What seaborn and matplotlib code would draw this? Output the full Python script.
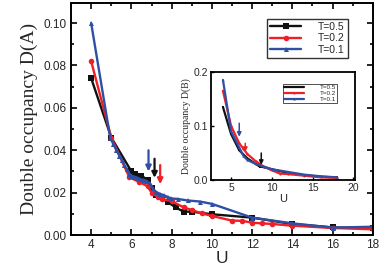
import numpy as np
import pandas as pd
import matplotlib
matplotlib.use("Agg")
import matplotlib.pyplot as plt
import seaborn as sns
from matplotlib.ticker import MultipleLocator

sns.set_theme(style="ticks")
plt.rcParams['font.family'] = ['Liberation Sans', 'DejaVu Sans']

# ---------------- data (main panel) ----------------
labels = ["T=0.5", "T=0.2", "T=0.1"]
colors = ["#111111", "#ee1f26", "#2f4fa6"]
markers = ["s", "o", "^"]

u_t05 = [4, 5, 6, 6.2, 6.5, 6.8, 7.0, 7.2, 7.8, 8.2, 8.6, 9.0, 10, 12, 14, 16, 18]
d_t05 = [0.074, 0.046, 0.030, 0.029, 0.028, 0.026, 0.022, 0.019, 0.0156, 0.013, 0.011, 0.011, 0.0098, 0.0082, 0.0052, 0.0036, 0.0031]

u_t02 = [4, 5, 5.9, 6.4, 6.8, 7.0, 7.3, 7.5, 8.0, 8.6, 9.0, 9.5, 10, 11, 11.5, 12, 12.5, 13, 14, 16, 18]
d_t02 = [0.082, 0.046, 0.0272, 0.025, 0.023, 0.020, 0.018, 0.017, 0.016, 0.013, 0.0118, 0.0102, 0.009, 0.0068, 0.0067, 0.0058, 0.0055, 0.0052, 0.0044, 0.0033, 0.0027]

u_t01 = [4, 4.95, 5.1, 5.25, 5.4, 5.52, 5.65, 5.77, 5.9, 6.0, 6.15, 6.3, 6.45, 6.6, 6.75, 6.9, 7.05, 7.2, 7.4, 7.6, 7.8, 7.95, 8.3, 8.8, 9.4, 10, 12, 14, 16, 18]
d_t01 = [0.100, 0.0457, 0.043, 0.040, 0.0375, 0.0355, 0.033, 0.031, 0.0290, 0.0280, 0.0275, 0.0270, 0.0262, 0.026, 0.0255, 0.0245, 0.022, 0.0205, 0.0195, 0.0188, 0.018, 0.0173, 0.017, 0.0163, 0.0158, 0.0147, 0.0082, 0.0055, 0.0035, 0.0039]

arrow_u = [6.85, 7.15, 7.43]
arrow_top = [0.040, 0.036, 0.033]
arrow_bot = [0.030, 0.027, 0.024]
arrow_colors = ["#2f4fa6", "#111111", "#ee1f26"]

# ---------------- data (inset) ----------------
iu_t05 = [4, 5, 6, 7, 8, 8.5, 9, 10, 12, 14, 16, 18]
id_t05 = [0.135, 0.085, 0.055, 0.040, 0.030, 0.025, 0.024, 0.020, 0.013, 0.009, 0.006, 0.005]
iu_t02 = [4, 5, 6, 6.5, 7, 8, 9, 10, 11, 12, 14, 16, 18]
id_t02 = [0.165, 0.100, 0.068, 0.058, 0.048, 0.035, 0.025, 0.018, 0.012, 0.011, 0.008, 0.005, 0.004]
iu_t01 = [4, 5, 5.5, 6, 6.5, 7, 8, 9, 10, 12, 14, 16, 18]
id_t01 = [0.185, 0.090, 0.075, 0.060, 0.045, 0.037, 0.030, 0.025, 0.020, 0.015, 0.010, 0.007, 0.005]

iarrow_u = [6.0, 6.74, 8.7]
iarrow_top = [0.105, 0.068, 0.050]
iarrow_bot = [0.080, 0.052, 0.028]
iarrow_colors = ["#2f4fa6", "#ee1f26", "#111111"]


def make_df(us, ds):
    frames = []
    for lab, u, d in zip(labels, us, ds):
        frames.append(pd.DataFrame({"U": u, "D": d, "T": lab}))
    return pd.concat(frames, ignore_index=True)


df_main = make_df([u_t05, u_t02, u_t01], [d_t05, d_t02, d_t01])
df_in = make_df([iu_t05, iu_t02, iu_t01], [id_t05, id_t02, id_t01])

pal = dict(zip(labels, colors))
mk = dict(zip(labels, markers))

fig = plt.figure(figsize=(3.82, 2.72), dpi=100)
ax = fig.add_axes([0.186, 0.136, 0.790, 0.853])

sns.lineplot(data=df_main, x="U", y="D", hue="T", style="T", palette=pal,
             markers=mk, dashes=False, lw=1.7, markersize=4.0,
             markeredgewidth=0, ax=ax, sort=False)
# smaller triangles for the dense T=0.1 series
for ln in ax.lines:
    if ln.get_marker() == "^":
        ln.set_markersize(3.6)

for u, t, b, c in zip(arrow_u, arrow_top, arrow_bot, arrow_colors):
    ax.annotate("", xy=(u, b), xytext=(u, t),
                arrowprops=dict(arrowstyle="-|>", color=c, lw=1.6,
                                mutation_scale=8, shrinkA=0, shrinkB=0))

ax.set_xlim(3, 18)
ax.set_ylim(0, 0.1095)
ax.xaxis.set_major_locator(MultipleLocator(2))
ax.xaxis.set_minor_locator(MultipleLocator(1))
ax.yaxis.set_major_locator(MultipleLocator(0.02))
ax.yaxis.set_minor_locator(MultipleLocator(0.01))
ax.yaxis.set_major_formatter(matplotlib.ticker.FormatStrFormatter('%.2f'))
ax.tick_params(which="both", direction="in", top=True, right=True,
               labeltop=False, labelright=False, width=1.2, color="black")
ax.tick_params(which="major", length=4, labelsize=8.5, pad=3)
ax.tick_params(which="minor", length=2.5)
for s in ax.spines.values():
    s.set_linewidth(1.4)
    s.set_color("black")
ax.set_xlabel("U", fontsize=12.5, labelpad=0)
ax.set_ylabel("Double occupancy D(A)", fontsize=14,
              family=["Liberation Serif", "DejaVu Serif"], labelpad=4)

leg = ax.legend(loc="upper right", bbox_to_anchor=(0.935, 0.955),
                fontsize=7.5, frameon=True, fancybox=False, edgecolor="black",
                handlelength=3.0, handletextpad=1.6, borderpad=0.3,
                labelspacing=0.15, markerfirst=True)
leg.get_frame().set_linewidth(1.0)

# ---------------- inset ----------------
axi = fig.add_axes([0.5516, 0.338, 0.3777, 0.398])
sns.lineplot(data=df_in, x="U", y="D", hue="T", style="T", palette=pal,
             markers=mk, dashes=False, lw=1.6, markersize=1.6,
             markeredgewidth=0, ax=axi, sort=False)
for u, t, b, c in zip(iarrow_u, iarrow_top, iarrow_bot, iarrow_colors):
    axi.annotate("", xy=(u, b), xytext=(u, t),
                 arrowprops=dict(arrowstyle="-|>", color=c, lw=1.1,
                                 mutation_scale=6, shrinkA=0, shrinkB=0))
axi.set_xlim(2.5, 20.2)
axi.set_ylim(0, 0.2)
axi.xaxis.set_major_locator(MultipleLocator(5))
axi.yaxis.set_major_locator(MultipleLocator(0.1))
axi.yaxis.set_major_formatter(matplotlib.ticker.FormatStrFormatter('%.1f'))
axi.tick_params(which="both", direction="in", width=1.0, length=2.5,
                labelsize=7.5, pad=2, color="black")
for s in axi.spines.values():
    s.set_linewidth(1.3)
    s.set_color("black")
axi.set_xlabel("U", fontsize=8, labelpad=1)
axi.set_ylabel("Double occupancy D(B)", fontsize=7,
               family=["Liberation Serif", "DejaVu Serif"], labelpad=2)
legi = axi.legend(loc="upper right", bbox_to_anchor=(0.9, 0.92),
                  fontsize=4.5, frameon=True, fancybox=False, edgecolor="black",
                  handlelength=3.2, handletextpad=2.5, borderpad=0.2,
                  labelspacing=0.1)
legi.get_frame().set_linewidth(0.6)

fig.savefig("out.png", dpi=100)
